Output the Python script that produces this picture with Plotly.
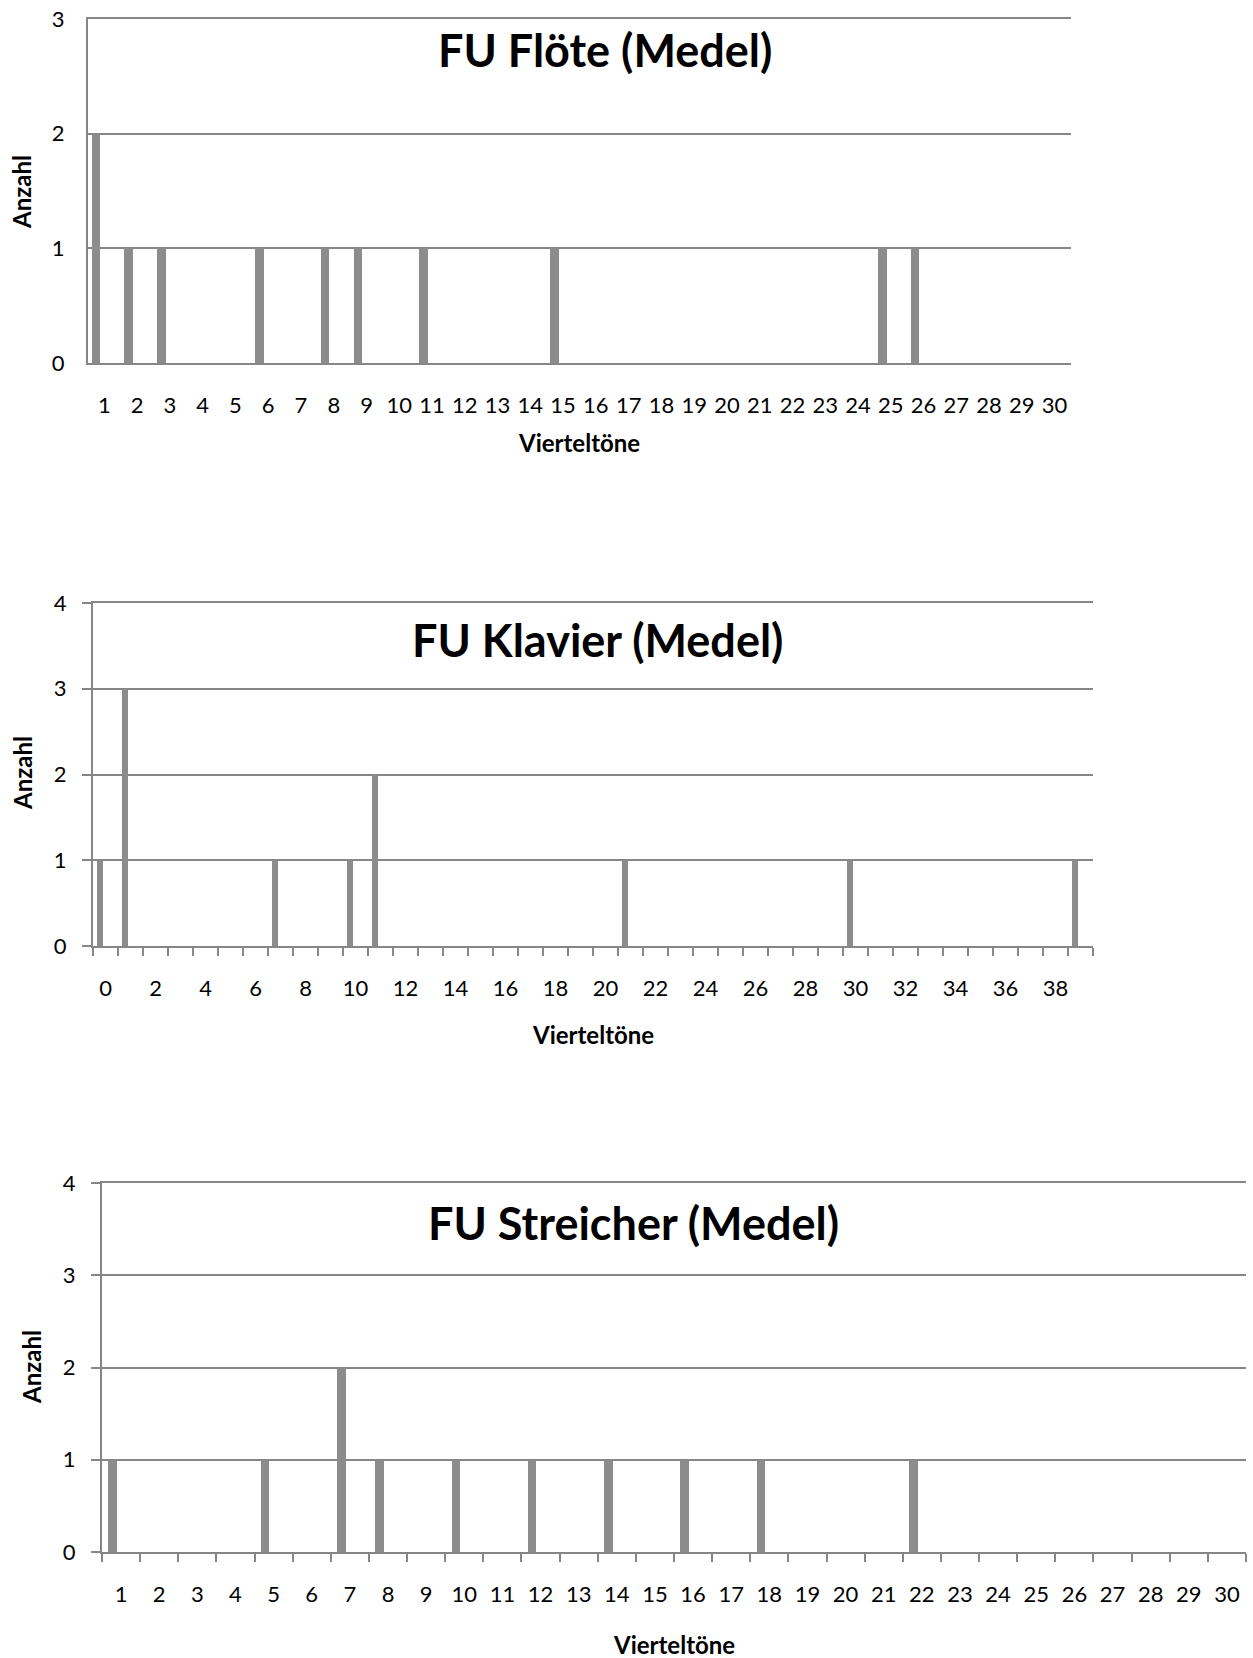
import plotly.graph_objects as go

# ---------------- data ----------------
floete_x = list(range(1, 31))
floete_y = [2, 1, 1, 0, 0, 1, 0, 1, 1, 0, 1, 0, 0, 0, 1,
            0, 0, 0, 0, 0, 0, 0, 0, 0, 1, 1, 0, 0, 0, 0]

klavier_x = list(range(0, 40))
klavier_y = [1, 3, 0, 0, 0, 0, 0, 1, 0, 0, 1, 2, 0, 0, 0, 0, 0, 0, 0, 0,
             0, 1, 0, 0, 0, 0, 0, 0, 0, 0, 1, 0, 0, 0, 0, 0, 0, 0, 0, 1]
klavier_ticks = list(range(0, 40, 2))

streicher_x = list(range(1, 31))
streicher_y = [1, 0, 0, 0, 1, 0, 2, 1, 0, 1, 0, 1, 0, 1, 0,
               1, 0, 1, 0, 0, 0, 1, 0, 0, 0, 0, 0, 0, 0, 0]

titles = ["FU Flöte (Medel)", "FU Klavier (Medel)", "FU Streicher (Medel)"]
x_title = "Vierteltöne"
y_title = "Anzahl"

# ---------------- style ----------------
W, H = 1253, 1658
BAR = "#8c8c8c"
GRID = "#868686"
FONT = "Lato"

def px(x):
    return x / W

def py(y):
    return 1 - y / H

fig = go.Figure()

fig.add_trace(go.Bar(x=floete_x, y=floete_y, width=0.26, offset=-0.39,
                     marker=dict(color=BAR, line=dict(width=0)),
                     xaxis="x", yaxis="y", showlegend=False))
fig.add_trace(go.Bar(x=klavier_x, y=klavier_y, width=0.22, offset=-0.33,
                     marker=dict(color=BAR, line=dict(width=0)),
                     xaxis="x2", yaxis="y2", showlegend=False))
fig.add_trace(go.Bar(x=streicher_x, y=streicher_y, width=0.22, offset=-0.33,
                     marker=dict(color=BAR, line=dict(width=0)),
                     xaxis="x3", yaxis="y3", showlegend=False))

tickfont = dict(family=FONT, size=22, color="black")

def xaxis(dom, rng, anchor, tickvals, minor_ticks):
    d = dict(domain=[px(dom[0]), px(dom[1])], range=rng, anchor=anchor,
             tickmode="array", tickvals=tickvals, ticktext=[str(v) for v in tickvals],
             showgrid=False, zeroline=False, showline=True, mirror=True, linecolor=GRID,
             linewidth=2, ticks="", tickfont=tickfont, ticklabelstandoff=22,
             automargin=False, fixedrange=True)
    if minor_ticks:
        d["minor"] = dict(dtick=1, tick0=0.5, ticks="outside", ticklen=8,
                          tickcolor=GRID, tickwidth=1.5, showgrid=False)
    return d

def yaxis(dom, rng, anchor, ticks):
    return dict(domain=[py(dom[0]), py(dom[1])], range=rng, anchor=anchor,
                dtick=1, tick0=0, showgrid=True, gridcolor=GRID, gridwidth=2,
                zeroline=False, showline=True, linecolor=GRID, linewidth=2,
                ticks="outside" if ticks else "", ticklen=9 if ticks else 0,
                tickcolor=GRID, tickwidth=1.5,
                tickfont=tickfont, ticklabelstandoff=11 if ticks else 17,
                automargin=False, fixedrange=True)

fig.update_layout(
    width=W, height=H,
    margin=dict(l=0, r=0, t=0, b=0, pad=0),
    paper_bgcolor="white", plot_bgcolor="white",
    bargap=0,
    xaxis=xaxis((88, 1071), [0.5, 30.5], "y", floete_x, False),
    yaxis=yaxis((363, 19), [0, 3], "x", False),
    xaxis2=xaxis((93, 1093), [-0.5, 39.5], "y2", klavier_ticks, True),
    yaxis2=yaxis((946, 603), [0, 4], "x2", True),
    xaxis3=xaxis((102, 1246), [0.5, 30.5], "y3", streicher_x, True),
    yaxis3=yaxis((1552, 1183), [0, 4], "x3", True),
)

ann = []
title_pos = [(605, 50), (597, 640), (633, 1223)]
xt_pos = [(579, 443), (593, 1034), (674, 1644)]
yt_pos = [(22, 192), (22, 773), (31, 1367)]
for t, (tx, ty) in zip(titles, title_pos):
    ann.append(dict(text="<b>%s</b>" % t, x=px(tx), y=py(ty), xref="paper", yref="paper",
                    xanchor="center", yanchor="middle", showarrow=False,
                    font=dict(family=FONT, size=45, color="black")))
for (tx, ty) in xt_pos:
    ann.append(dict(text="<b>%s</b>" % x_title, x=px(tx), y=py(ty), xref="paper", yref="paper",
                    xanchor="center", yanchor="middle", showarrow=False,
                    font=dict(family=FONT, size=24, color="black")))
for (tx, ty) in yt_pos:
    ann.append(dict(text="<b>%s</b>" % y_title, x=px(tx), y=py(ty), xref="paper", yref="paper",
                    xanchor="center", yanchor="middle", showarrow=False, textangle=-90,
                    font=dict(family=FONT, size=24, color="black")))
fig.update_layout(annotations=ann)

fig.write_html("out.html", config={"displayModeBar": False})
